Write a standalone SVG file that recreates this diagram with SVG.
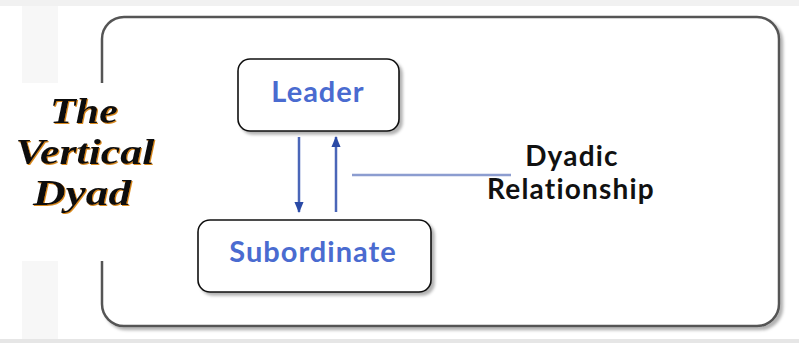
<svg xmlns="http://www.w3.org/2000/svg" width="799" height="343" viewBox="0 0 799 343">
<defs>
<filter id="sh" x="-10%" y="-10%" width="130%" height="130%">
<feGaussianBlur in="SourceAlpha" stdDeviation="1.5"/>
<feOffset dx="3" dy="3" result="b"/>
<feFlood flood-color="#000" flood-opacity="0.3"/>
<feComposite in2="b" operator="in"/>
<feMerge><feMergeNode/><feMergeNode in="SourceGraphic"/></feMerge>
</filter>
<filter id="ts" x="-10%" y="-10%" width="120%" height="130%">
<feOffset in="SourceGraphic" dx="0.9" dy="0.6" result="o"/>
<feFlood flood-color="#d9891f"/>
<feComposite in2="o" operator="in" result="or"/>
<feMerge><feMergeNode in="or"/><feMergeNode in="SourceGraphic"/></feMerge>
</filter>
<marker id="ah" viewBox="0 0 12 10" refX="11" refY="5" markerWidth="11" markerHeight="12" orient="auto" markerUnits="userSpaceOnUse">
<path d="M0,0 L12,5 L0,10 z" fill="#2a4aa6"/>
</marker>
<style>
.node rect{fill:#fff;stroke:#111;stroke-width:1.6}
.nt{font-family:Lato,"Open Sans",sans-serif;font-weight:bold;font-size:29px;letter-spacing:1px;fill:#4a6bd0;text-anchor:middle}
.lt{font-family:Lato,"Open Sans",sans-serif;font-weight:bold;font-size:28px;letter-spacing:1.2px;fill:#111;text-anchor:middle}
.vt{font-family:"Liberation Serif",serif;font-weight:bold;font-style:italic;font-size:35px;fill:#111;text-anchor:middle}
.conn{stroke:#4a66b8;stroke-width:2.5;fill:none}
</style>
</defs>
<rect x="0" y="0" width="799" height="343" fill="#fff"/>
<rect x="0" y="0" width="799" height="6" fill="#f1f1f1"/>
<rect x="0" y="339" width="799" height="4" fill="#e6e6e6"/>
<rect x="22" y="6" width="36" height="333" fill="#f7f7f7"/>
<g id="frame">
<rect x="102" y="17" width="677" height="309" rx="22" fill="#fff" stroke="#555" stroke-width="2.5" filter="url(#sh)"/>
</g>
<g id="title">
<rect x="0" y="83" width="125" height="178" fill="#fff"/>
<g filter="url(#ts)">
<text class="vt" x="84" y="123" textLength="68" lengthAdjust="spacingAndGlyphs">The</text>
<text class="vt" x="85" y="164" textLength="139" lengthAdjust="spacingAndGlyphs">Vertical</text>
<text class="vt" x="82" y="205" textLength="98" lengthAdjust="spacingAndGlyphs">Dyad</text>
</g>
</g>
<g id="connectors">
<line class="conn" x1="299" y1="137" x2="299" y2="212" marker-end="url(#ah)"/>
<line class="conn" x1="336" y1="212" x2="336" y2="137" marker-end="url(#ah)"/>
<line x1="352" y1="175" x2="511" y2="175" stroke="#8c9dd0" stroke-width="2.5"/>
</g>
<g id="leader" class="node">
<rect x="238" y="59" width="161" height="72" rx="12" filter="url(#sh)"/>
<text class="nt" x="318" y="102">Leader</text>
</g>
<g id="subordinate" class="node">
<rect x="198" y="220" width="233" height="72" rx="12" filter="url(#sh)"/>
<text class="nt" x="313" y="262">Subordinate</text>
</g>
<g id="label">
<text class="lt" x="572" y="166">Dyadic</text>
<text class="lt" x="571" y="199">Relationship</text>
</g>
</svg>
